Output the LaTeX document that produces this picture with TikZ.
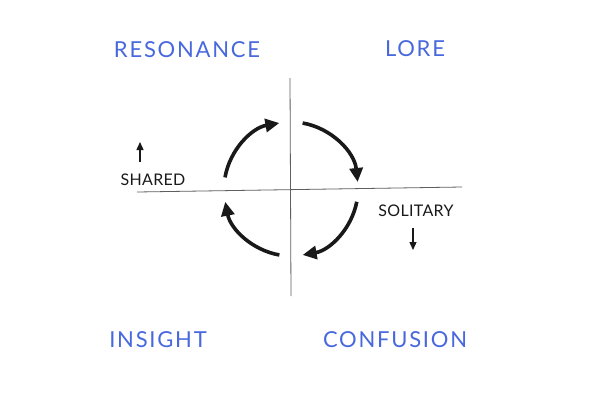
\documentclass[tikz,border=0pt]{standalone}
\usepackage{fontspec}
\setmainfont{Lato}
\usetikzlibrary{arrows.meta}
\definecolor{penblue}{RGB}{72,104,222}
\definecolor{pencil}{RGB}{95,95,95}
\definecolor{ink}{RGB}{25,25,25}
\tikzset{
  quad/.style={text=penblue, font=\fontsize{22}{24}\selectfont\addfontfeature{LetterSpace=8}, inner sep=0pt},
  axislabel/.style={text=ink, font=\fontsize{16}{18}\selectfont\addfontfeature{LetterSpace=2}, inner sep=0pt},
  axis/.style={draw=pencil, line width=0.8pt},
  cyc/.style={draw=ink, line width=3.6pt, -{Triangle[length=14pt,width=13pt]}},
  small/.style={draw=ink, line width=1.3pt, -{Triangle[length=8pt,width=7pt]}}
}
\begin{document}
\begin{tikzpicture}[x=1pt,y=-1pt]
\useasboundingbox[fill=white] (0,0) rectangle (600,400);
\node[quad] (res) at (187,50) {RESONANCE};
\node[quad] (lore) at (415,49) {LORE};
\node[quad] (ins) at (158,340) {INSIGHT};
\node[quad] (conf) at (395,340) {CONFUSION};
\coordinate (vt) at (290,78);
\coordinate (vb) at (291,296);
\coordinate (hl) at (137,192);
\coordinate (hr) at (462,187);
\draw[axis] (vt) -- (vb);
\draw[axis] (hl) -- (hr);
\coordinate (c) at (291,189);
\draw[cyc] ([shift={(-170:67)}]c) arc[start angle=-170, end angle=-100, radius=67];
\draw[cyc] ([shift={(-80:67)}]c) arc[start angle=-80, end angle=-6, radius=67];
\draw[cyc] ([shift={(11:67)}]c) arc[start angle=11, end angle=80, radius=67];
\draw[cyc] ([shift={(100:67)}]c) arc[start angle=100, end angle=169, radius=67];
\node[axislabel] (sh) at (153,180) {SHARED};
\node[axislabel] (sol) at (416,211) {SOLITARY};
\coordinate (ua0) at (140,162);
\coordinate (ua1) at (140,142);
\coordinate (da0) at (413,228);
\coordinate (da1) at (413,250);
\draw[small] (ua0) -- (ua1);
\draw[small] (da0) -- (da1);
\end{tikzpicture}
\end{document}
